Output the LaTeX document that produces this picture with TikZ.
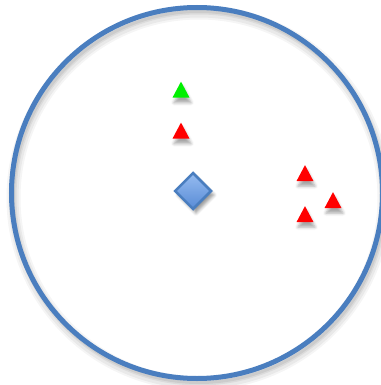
\documentclass[tikz,border=0pt]{standalone}
\usetikzlibrary{shapes.geometric,shadows.blur}
\definecolor{ringblue}{RGB}{74,126,191}
\definecolor{diatop}{RGB}{150,188,240}
\definecolor{diabot}{RGB}{88,139,214}
\definecolor{trigreen}{RGB}{0,240,0}
\definecolor{trired}{RGB}{255,0,0}
\tikzset{
  tri/.style={isosceles triangle, shape border rotate=90, isosceles triangle stretches,
    minimum width=17pt, minimum height=16pt, inner sep=0pt, draw=none,
    blur shadow={shadow xshift=1.5pt, shadow yshift=-5pt, shadow blur radius=3pt, shadow opacity=35}},
  dia/.style={diamond, aspect=1, minimum size=37pt, inner sep=0pt, line width=2.5pt,
    draw=ringblue, top color=diatop, bottom color=diabot,
    blur shadow={shadow xshift=3pt, shadow yshift=-4pt, shadow blur radius=3pt, shadow opacity=40}},
  ringshadow/.style={draw=black, draw opacity=#1},
}
\begin{document}
\begin{tikzpicture}[x=1pt,y=-1pt]
\useasboundingbox (0,0) rectangle (380,385);
% ring shadow
\draw[ringshadow=0.04, line width=14pt] (199,198) circle (185.5);
\draw[ringshadow=0.05, line width=10pt] (199,198) circle (185.5);
\draw[ringshadow=0.06, line width=6pt] (199,197) circle (185.5);
\draw[ringshadow=0.07, line width=3pt] (199,197) circle (185.5);
% ring
\node[circle, draw=ringblue, line width=5pt, minimum size=371pt, inner sep=0pt] (ring) at (197,193) {};
% diamond
\node[dia] (d) at (193,191) {};
% triangles
\node[tri, fill=trigreen] (g1) at (181,92.5) {};
\node[tri, fill=trired] (r1) at (181,133.5) {};
\node[tri, fill=trired] (r2) at (305,176) {};
\node[tri, fill=trired] (r3) at (333,203) {};
\node[tri, fill=trired] (r4) at (305,217) {};
\end{tikzpicture}
\end{document}
